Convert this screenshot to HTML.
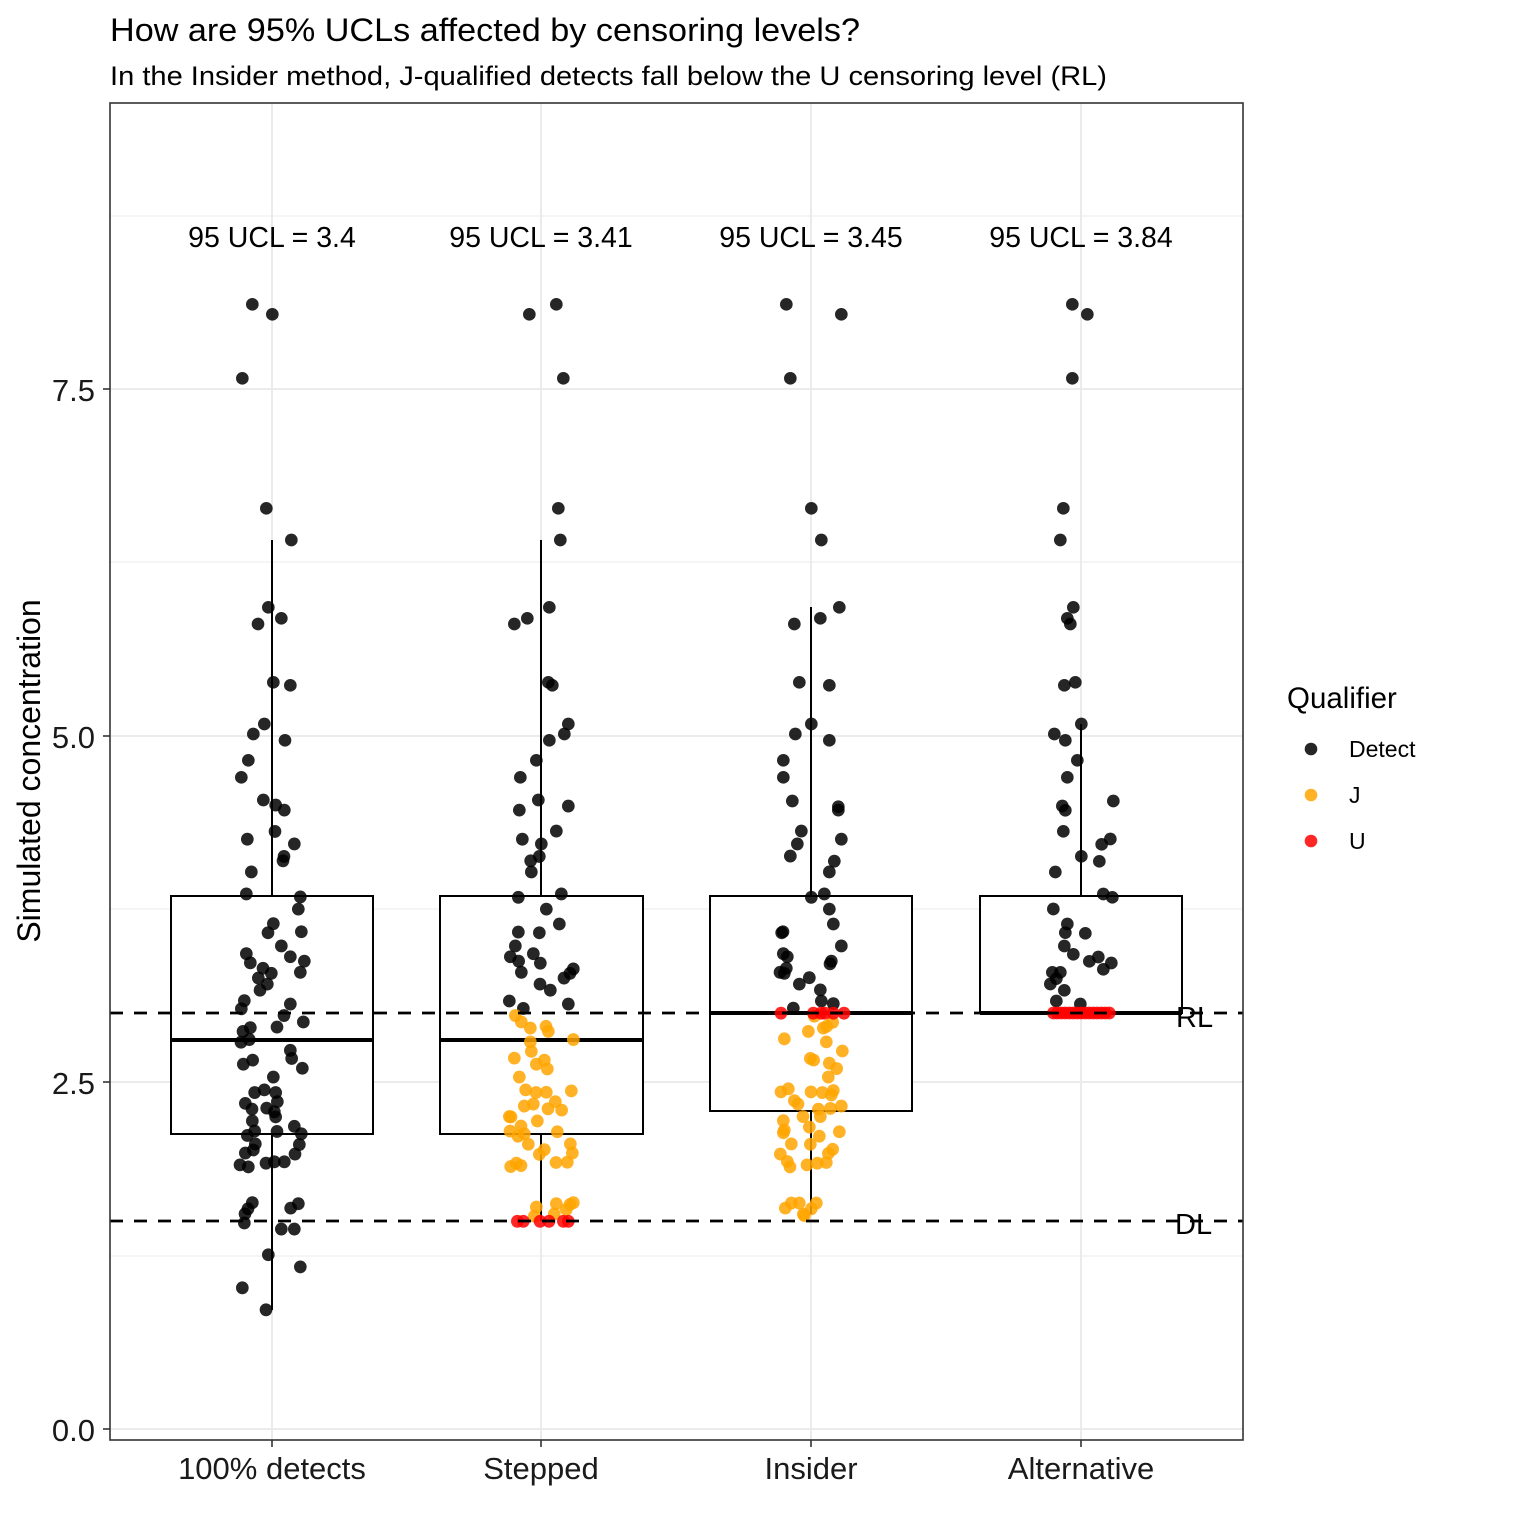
<!DOCTYPE html>
<html><head><meta charset="utf-8"><style>
html,body{margin:0;padding:0;background:#fff;}
svg{display:block;font-family:"Liberation Sans",Arial,sans-serif;}
</style></head><body>
<svg width="1536" height="1536" viewBox="0 0 1536 1536" xmlns="http://www.w3.org/2000/svg">
<rect width="1536" height="1536" fill="#fff"/>
<text x="110" y="41" font-size="32.5" textLength="750" lengthAdjust="spacingAndGlyphs" fill="#000">How are 95% UCLs affected by censoring levels?</text>
<text x="110" y="85" font-size="26.5" textLength="997" lengthAdjust="spacingAndGlyphs" fill="#000">In the Insider method, J-qualified detects fall below the U censoring level (RL)</text>
<rect x="110" y="103" width="1133" height="1337" fill="#fff"/>
<g stroke="#ebebeb" stroke-width="1">
<line x1="110" x2="1243" y1="1256" y2="1256"/><line x1="110" x2="1243" y1="909" y2="909"/><line x1="110" x2="1243" y1="562" y2="562"/><line x1="110" x2="1243" y1="216" y2="216"/>
</g>
<g stroke="#ebebeb" stroke-width="2">
<line x1="110" x2="1243" y1="1429" y2="1429"/><line x1="110" x2="1243" y1="1082" y2="1082"/><line x1="110" x2="1243" y1="736" y2="736"/><line x1="110" x2="1243" y1="389" y2="389"/>
<line x1="272" x2="272" y1="103" y2="1440"/><line x1="541" x2="541" y1="103" y2="1440"/><line x1="811" x2="811" y1="103" y2="1440"/><line x1="1081" x2="1081" y1="103" y2="1440"/>
</g>
<g stroke="#000" stroke-width="2" fill="#fff">
<line x1="272" x2="272" y1="540" y2="896"/><line x1="272" x2="272" y1="1134" y2="1310"/>
<rect x="171" y="896" width="202" height="238"/>
<line x1="541" x2="541" y1="540" y2="896"/><line x1="541" x2="541" y1="1134" y2="1221"/>
<rect x="440" y="896" width="203" height="238"/>
<line x1="811" x2="811" y1="607" y2="896"/><line x1="811" x2="811" y1="1111" y2="1214"/>
<rect x="710" y="896" width="202" height="215"/>
<line x1="1081" x2="1081" y1="724" y2="896"/>
<rect x="980" y="896" width="202" height="117"/>
</g>
<g stroke="#000" stroke-width="4">
<line x1="171" x2="373" y1="1040" y2="1040"/><line x1="440" x2="643" y1="1040" y2="1040"/><line x1="710" x2="912" y1="1013" y2="1013"/><line x1="980" x2="1182" y1="1013" y2="1013"/>
</g>
<!-- panel 1 -->
<g transform="translate(160,280) scale(0.33333)" fill="#000" fill-opacity="0.85">
<circle cx="277" cy="73" r="19"/><circle cx="337" cy="103" r="19"/><circle cx="247" cy="295" r="19"/><circle cx="319" cy="685" r="19"/><circle cx="394" cy="780" r="19"/><circle cx="325" cy="982" r="19"/><circle cx="364" cy="1015" r="19"/><circle cx="294" cy="1032" r="19"/><circle cx="340" cy="1207" r="19"/><circle cx="391" cy="1216" r="19"/><circle cx="313" cy="1332" r="19"/><circle cx="280" cy="1362" r="19"/><circle cx="375" cy="1381" r="19"/><circle cx="265" cy="1441" r="19"/><circle cx="244" cy="1492" r="19"/>
</g>
<g transform="translate(160,800) scale(0.33333,0.33784)" fill="#000" fill-opacity="0.85">
<circle cx="310" cy="0" r="19"/><circle cx="347" cy="15" r="19"/><circle cx="373" cy="30" r="19"/><circle cx="262" cy="116" r="19"/><circle cx="345" cy="93" r="19"/><circle cx="403" cy="130" r="19"/><circle cx="372" cy="167" r="19"/><circle cx="369" cy="180" r="19"/><circle cx="274" cy="213" r="19"/><circle cx="259" cy="278" r="19"/><circle cx="421" cy="287" r="19"/><circle cx="415" cy="323" r="19"/><circle cx="340" cy="366" r="19"/><circle cx="324" cy="393" r="19"/><circle cx="424" cy="390" r="19"/><circle cx="364" cy="432" r="19"/><circle cx="259" cy="455" r="19"/><circle cx="391" cy="464" r="19"/><circle cx="271" cy="482" r="19"/><circle cx="433" cy="477" r="19"/><circle cx="309" cy="498" r="19"/><circle cx="334" cy="513" r="19"/><circle cx="421" cy="510" r="19"/><circle cx="295" cy="527" r="19"/><circle cx="322" cy="545" r="19"/><circle cx="300" cy="563" r="19"/><circle cx="253" cy="594" r="19"/><circle cx="391" cy="604" r="19"/><circle cx="244" cy="618" r="19"/><circle cx="372" cy="638" r="19"/><circle cx="430" cy="657" r="19"/><circle cx="351" cy="672" r="19"/><circle cx="271" cy="674" r="19"/><circle cx="249" cy="685" r="19"/><circle cx="268" cy="709" r="19"/><circle cx="243" cy="717" r="19"/><circle cx="391" cy="741" r="19"/><circle cx="395" cy="765" r="19"/><circle cx="278" cy="770" r="19"/><circle cx="250" cy="782" r="19"/><circle cx="427" cy="794" r="19"/><circle cx="340" cy="820" r="19"/><circle cx="284" cy="866" r="19"/><circle cx="313" cy="858" r="19"/><circle cx="347" cy="866" r="19"/><circle cx="256" cy="898" r="19"/><circle cx="352" cy="893" r="19"/><circle cx="276" cy="915" r="19"/><circle cx="320" cy="912" r="19"/><circle cx="343" cy="923" r="19"/><circle cx="347" cy="938" r="19"/><circle cx="277" cy="950" r="19"/><circle cx="351" cy="981" r="19"/><circle cx="403" cy="966" r="19"/><circle cx="284" cy="980" r="19"/><circle cx="424" cy="988" r="19"/><circle cx="262" cy="993" r="19"/><circle cx="418" cy="1020" r="19"/><circle cx="286" cy="1018" r="19"/><circle cx="280" cy="1036" r="19"/><circle cx="256" cy="1045" r="19"/><circle cx="405" cy="1048" r="19"/><circle cx="240" cy="1080" r="19"/><circle cx="265" cy="1086" r="19"/><circle cx="318" cy="1075" r="19"/><circle cx="343" cy="1071" r="19"/><circle cx="373" cy="1071" r="19"/><circle cx="277" cy="1192" r="19"/><circle cx="264" cy="1210" r="19"/><circle cx="415" cy="1195" r="19"/><circle cx="392" cy="1208" r="19"/><circle cx="255" cy="1225" r="19"/><circle cx="253" cy="1252" r="19"/><circle cx="364" cy="1270" r="19"/><circle cx="403" cy="1270" r="19"/><circle cx="325" cy="1346" r="19"/><circle cx="421" cy="1382" r="19"/><circle cx="247" cy="1444" r="19"/><circle cx="318" cy="1509" r="19"/>
</g>
<!-- panel 2 -->
<g transform="translate(430,280) scale(0.33333)" fill="#000" fill-opacity="0.85">
<circle cx="379" cy="73" r="19"/><circle cx="298" cy="103" r="19"/><circle cx="400" cy="295" r="19"/><circle cx="385" cy="685" r="19"/><circle cx="391" cy="780" r="19"/><circle cx="358" cy="982" r="19"/><circle cx="292" cy="1015" r="19"/><circle cx="253" cy="1032" r="19"/><circle cx="355" cy="1207" r="19"/><circle cx="367" cy="1216" r="19"/><circle cx="415" cy="1332" r="19"/><circle cx="403" cy="1362" r="19"/><circle cx="358" cy="1381" r="19"/><circle cx="319" cy="1441" r="19"/><circle cx="271" cy="1492" r="19"/>
</g>
<g transform="translate(430,800) scale(0.33333,0.33784)">
<g fill="#000" fill-opacity="0.85">
<circle cx="325" cy="0" r="19"/><circle cx="415" cy="18" r="19"/><circle cx="268" cy="30" r="19"/><circle cx="379" cy="92" r="19"/><circle cx="277" cy="116" r="19"/><circle cx="334" cy="130" r="19"/><circle cx="328" cy="167" r="19"/><circle cx="302" cy="180" r="19"/><circle cx="304" cy="213" r="19"/><circle cx="265" cy="288" r="19"/><circle cx="394" cy="278" r="19"/><circle cx="349" cy="323" r="19"/><circle cx="388" cy="367" r="19"/><circle cx="265" cy="391" r="19"/><circle cx="328" cy="393" r="19"/><circle cx="256" cy="432" r="19"/><circle cx="241" cy="464" r="19"/><circle cx="310" cy="455" r="19"/><circle cx="266" cy="477" r="19"/><circle cx="331" cy="483" r="19"/><circle cx="430" cy="500" r="19"/><circle cx="420" cy="513" r="19"/><circle cx="274" cy="510" r="19"/><circle cx="402" cy="527" r="19"/><circle cx="330" cy="545" r="19"/><circle cx="361" cy="563" r="19"/><circle cx="238" cy="595" r="19"/><circle cx="415" cy="604" r="19"/><circle cx="280" cy="617" r="19"/>
</g>
<g fill="#FFA500" fill-opacity="0.85">
<circle cx="256" cy="638" r="19"/><circle cx="274" cy="657" r="19"/><circle cx="301" cy="675" r="19"/><circle cx="348" cy="670" r="19"/><circle cx="355" cy="685" r="19"/><circle cx="301" cy="716" r="19"/><circle cx="430" cy="709" r="19"/><circle cx="304" cy="744" r="19"/><circle cx="253" cy="764" r="19"/><circle cx="319" cy="782" r="19"/><circle cx="343" cy="770" r="19"/><circle cx="352" cy="796" r="19"/><circle cx="268" cy="820" r="19"/><circle cx="287" cy="858" r="19"/><circle cx="318" cy="866" r="19"/><circle cx="349" cy="865" r="19"/><circle cx="424" cy="861" r="19"/><circle cx="310" cy="900" r="19"/><circle cx="283" cy="906" r="19"/><circle cx="376" cy="893" r="19"/><circle cx="395" cy="918" r="19"/><circle cx="354" cy="914" r="19"/><circle cx="238" cy="937" r="19"/><circle cx="243" cy="938" r="19"/><circle cx="322" cy="950" r="19"/><circle cx="273" cy="965" r="19"/><circle cx="240" cy="980" r="19"/><circle cx="264" cy="995" r="19"/><circle cx="283" cy="988" r="19"/><circle cx="382" cy="982" r="19"/><circle cx="295" cy="1019" r="19"/><circle cx="421" cy="1018" r="19"/><circle cx="427" cy="1045" r="19"/><circle cx="343" cy="1035" r="19"/><circle cx="328" cy="1049" r="19"/><circle cx="378" cy="1073" r="19"/><circle cx="412" cy="1072" r="19"/><circle cx="242" cy="1085" r="19"/><circle cx="259" cy="1075" r="19"/><circle cx="273" cy="1082" r="19"/><circle cx="319" cy="1205" r="19"/><circle cx="379" cy="1195" r="19"/><circle cx="430" cy="1192" r="19"/><circle cx="420" cy="1197" r="19"/><circle cx="409" cy="1212" r="19"/><circle cx="313" cy="1232" r="19"/><circle cx="373" cy="1225" r="19"/>
</g>
<g fill="#FF0000" fill-opacity="0.85">
<circle cx="262" cy="1247" r="19"/><circle cx="280" cy="1247" r="19"/><circle cx="330" cy="1247" r="19"/><circle cx="357" cy="1247" r="19"/><circle cx="400" cy="1247" r="19"/><circle cx="415" cy="1247" r="19"/>
</g>
</g>
<!-- panel 3 -->
<g transform="translate(700,280) scale(0.33333)" fill="#000" fill-opacity="0.85">
<circle cx="259" cy="73" r="19"/><circle cx="424" cy="103" r="19"/><circle cx="271" cy="295" r="19"/><circle cx="334" cy="685" r="19"/><circle cx="364" cy="780" r="19"/><circle cx="418" cy="982" r="19"/><circle cx="361" cy="1015" r="19"/><circle cx="283" cy="1032" r="19"/><circle cx="298" cy="1207" r="19"/><circle cx="388" cy="1216" r="19"/><circle cx="334" cy="1332" r="19"/><circle cx="286" cy="1362" r="19"/><circle cx="388" cy="1381" r="19"/><circle cx="250" cy="1441" r="19"/><circle cx="250" cy="1492" r="19"/>
</g>
<g transform="translate(700,800) scale(0.33333,0.33784)">
<g fill="#000" fill-opacity="0.85">
<circle cx="277" cy="3" r="19"/><circle cx="415" cy="20" r="19"/><circle cx="415" cy="30" r="19"/><circle cx="304" cy="92" r="19"/><circle cx="424" cy="116" r="19"/><circle cx="292" cy="130" r="19"/><circle cx="271" cy="166" r="19"/><circle cx="403" cy="181" r="19"/><circle cx="388" cy="213" r="19"/><circle cx="334" cy="288" r="19"/><circle cx="373" cy="278" r="19"/><circle cx="388" cy="323" r="19"/><circle cx="400" cy="367" r="19"/><circle cx="245" cy="393" r="19"/><circle cx="249" cy="390" r="19"/><circle cx="424" cy="432" r="19"/><circle cx="250" cy="455" r="19"/><circle cx="262" cy="464" r="19"/><circle cx="394" cy="477" r="19"/><circle cx="390" cy="485" r="19"/><circle cx="259" cy="498" r="19"/><circle cx="240" cy="510" r="19"/><circle cx="253" cy="513" r="19"/><circle cx="328" cy="526" r="19"/><circle cx="298" cy="545" r="19"/><circle cx="361" cy="562" r="19"/><circle cx="364" cy="595" r="19"/><circle cx="400" cy="603" r="19"/><circle cx="280" cy="616" r="19"/>
</g>
<g fill="#FFA500" fill-opacity="0.85">
<circle cx="343" cy="640" r="19"/><circle cx="398" cy="658" r="19"/><circle cx="370" cy="675" r="19"/><circle cx="380" cy="670" r="19"/><circle cx="325" cy="685" r="19"/><circle cx="253" cy="707" r="19"/><circle cx="379" cy="716" r="19"/><circle cx="427" cy="743" r="19"/><circle cx="331" cy="765" r="19"/><circle cx="341" cy="770" r="19"/><circle cx="388" cy="779" r="19"/><circle cx="410" cy="795" r="19"/><circle cx="385" cy="820" r="19"/><circle cx="243" cy="864" r="19"/><circle cx="265" cy="855" r="19"/><circle cx="333" cy="864" r="19"/><circle cx="367" cy="866" r="19"/><circle cx="400" cy="860" r="19"/><circle cx="394" cy="873" r="19"/><circle cx="283" cy="890" r="19"/><circle cx="294" cy="900" r="19"/><circle cx="424" cy="906" r="19"/><circle cx="391" cy="913" r="19"/><circle cx="355" cy="915" r="19"/><circle cx="361" cy="937" r="19"/><circle cx="309" cy="937" r="19"/><circle cx="250" cy="949" r="19"/><circle cx="328" cy="968" r="19"/><circle cx="250" cy="985" r="19"/><circle cx="253" cy="977" r="19"/><circle cx="418" cy="982" r="19"/><circle cx="358" cy="995" r="19"/><circle cx="274" cy="1018" r="19"/><circle cx="331" cy="1019" r="19"/><circle cx="398" cy="1034" r="19"/><circle cx="385" cy="1046" r="19"/><circle cx="241" cy="1048" r="19"/><circle cx="262" cy="1070" r="19"/><circle cx="270" cy="1086" r="19"/><circle cx="321" cy="1080" r="19"/><circle cx="352" cy="1075" r="19"/><circle cx="379" cy="1073" r="19"/><circle cx="256" cy="1208" r="19"/><circle cx="274" cy="1193" r="19"/><circle cx="298" cy="1193" r="19"/><circle cx="349" cy="1193" r="19"/><circle cx="334" cy="1210" r="19"/><circle cx="310" cy="1226" r="19"/><circle cx="313" cy="1230" r="19"/>
</g>
<g fill="#FF0000" fill-opacity="0.85">
<circle cx="243" cy="631" r="19"/><circle cx="340" cy="631" r="19"/><circle cx="363" cy="631" r="19"/><circle cx="375" cy="631" r="19"/><circle cx="400" cy="631" r="19"/><circle cx="432" cy="631" r="19"/>
</g>
</g>
<!-- panel 4 -->
<g transform="translate(970,280) scale(0.33333)" fill="#000" fill-opacity="0.85">
<circle cx="307" cy="73" r="19"/><circle cx="352" cy="103" r="19"/><circle cx="307" cy="295" r="19"/><circle cx="280" cy="685" r="19"/><circle cx="271" cy="780" r="19"/><circle cx="310" cy="982" r="19"/><circle cx="292" cy="1015" r="19"/><circle cx="301" cy="1032" r="19"/><circle cx="283" cy="1216" r="19"/><circle cx="316" cy="1207" r="19"/><circle cx="334" cy="1332" r="19"/><circle cx="253" cy="1362" r="19"/><circle cx="286" cy="1381" r="19"/><circle cx="322" cy="1441" r="19"/><circle cx="292" cy="1492" r="19"/>
</g>
<g transform="translate(970,800) scale(0.33333)">
<g fill="#000" fill-opacity="0.85">
<circle cx="430" cy="3" r="19"/><circle cx="277" cy="18" r="19"/><circle cx="286" cy="31" r="19"/><circle cx="280" cy="94" r="19"/><circle cx="421" cy="117" r="19"/><circle cx="395" cy="133" r="19"/><circle cx="334" cy="169" r="19"/><circle cx="388" cy="184" r="19"/><circle cx="256" cy="216" r="19"/><circle cx="400" cy="282" r="19"/><circle cx="427" cy="292" r="19"/><circle cx="250" cy="327" r="19"/><circle cx="292" cy="372" r="19"/><circle cx="286" cy="398" r="19"/><circle cx="346" cy="400" r="19"/><circle cx="283" cy="438" r="19"/><circle cx="310" cy="463" r="19"/><circle cx="385" cy="471" r="19"/><circle cx="358" cy="484" r="19"/><circle cx="424" cy="489" r="19"/><circle cx="400" cy="508" r="19"/><circle cx="247" cy="517" r="19"/><circle cx="271" cy="517" r="19"/><circle cx="259" cy="536" r="19"/><circle cx="241" cy="552" r="19"/><circle cx="283" cy="571" r="19"/><circle cx="259" cy="603" r="19"/><circle cx="331" cy="612" r="19"/>
</g>
<g fill="#FF0000" fill-opacity="0.85">
<circle cx="250" cy="639" r="19"/><circle cx="262" cy="639" r="19"/><circle cx="274" cy="639" r="19"/><circle cx="286" cy="639" r="19"/><circle cx="298" cy="639" r="19"/><circle cx="310" cy="639" r="19"/><circle cx="322" cy="639" r="19"/><circle cx="334" cy="639" r="19"/><circle cx="346" cy="639" r="19"/><circle cx="358" cy="639" r="19"/><circle cx="370" cy="639" r="19"/><circle cx="382" cy="639" r="19"/><circle cx="394" cy="639" r="19"/><circle cx="406" cy="639" r="19"/><circle cx="418" cy="639" r="19"/>
</g>
</g>
<!-- reference lines -->
<g stroke="#000" stroke-width="2.8" stroke-dasharray="13 11">
<line x1="110" x2="1243" y1="1013" y2="1013"/>
<line x1="110" x2="1243" y1="1221" y2="1221"/>
</g>
<text x="1176" y="1027" font-size="29" fill="#000">RL</text>
<text x="1175" y="1234" font-size="29" fill="#000">DL</text>
<!-- UCL labels -->
<g font-size="28.5" fill="#000" text-anchor="middle">
<text x="272" y="247">95 UCL = 3.4</text>
<text x="541" y="247">95 UCL = 3.41</text>
<text x="811" y="247">95 UCL = 3.45</text>
<text x="1081" y="247">95 UCL = 3.84</text>
</g>
<!-- panel border -->
<rect x="110" y="103" width="1133" height="1337" fill="none" stroke="#333" stroke-width="1.6"/>
<!-- ticks -->
<g stroke="#333" stroke-width="1.6">
<line x1="103" x2="110" y1="1429" y2="1429"/><line x1="103" x2="110" y1="1082" y2="1082"/><line x1="103" x2="110" y1="736" y2="736"/><line x1="103" x2="110" y1="389" y2="389"/>
<line x1="272" x2="272" y1="1440" y2="1447"/><line x1="541" x2="541" y1="1440" y2="1447"/><line x1="811" x2="811" y1="1440" y2="1447"/><line x1="1081" x2="1081" y1="1440" y2="1447"/>
</g>
<g font-size="31" fill="#1a1a1a" text-anchor="end">
<text x="95" y="1441">0.0</text>
<text x="95" y="1094">2.5</text>
<text x="95" y="748">5.0</text>
<text x="95" y="401">7.5</text>
</g>
<g font-size="31" fill="#1a1a1a" text-anchor="middle">
<text x="272" y="1479">100% detects</text>
<text x="541" y="1479">Stepped</text>
<text x="811" y="1479">Insider</text>
<text x="1081" y="1479">Alternative</text>
</g>
<text transform="translate(40,771) rotate(-90)" font-size="32" fill="#000" text-anchor="middle">Simulated concentration</text>
<!-- legend -->
<text x="1287" y="708" font-size="29.5" fill="#000">Qualifier</text>
<circle cx="1311" cy="749" r="6.3" fill="#000" fill-opacity="0.85"/>
<circle cx="1311" cy="795" r="6.3" fill="#FFA500" fill-opacity="0.85"/>
<circle cx="1311" cy="841" r="6.3" fill="#FF0000" fill-opacity="0.85"/>
<g font-size="23" fill="#000">
<text x="1349" y="757">Detect</text>
<text x="1349" y="803">J</text>
<text x="1349" y="849">U</text>
</g>
</svg>
</body></html>
